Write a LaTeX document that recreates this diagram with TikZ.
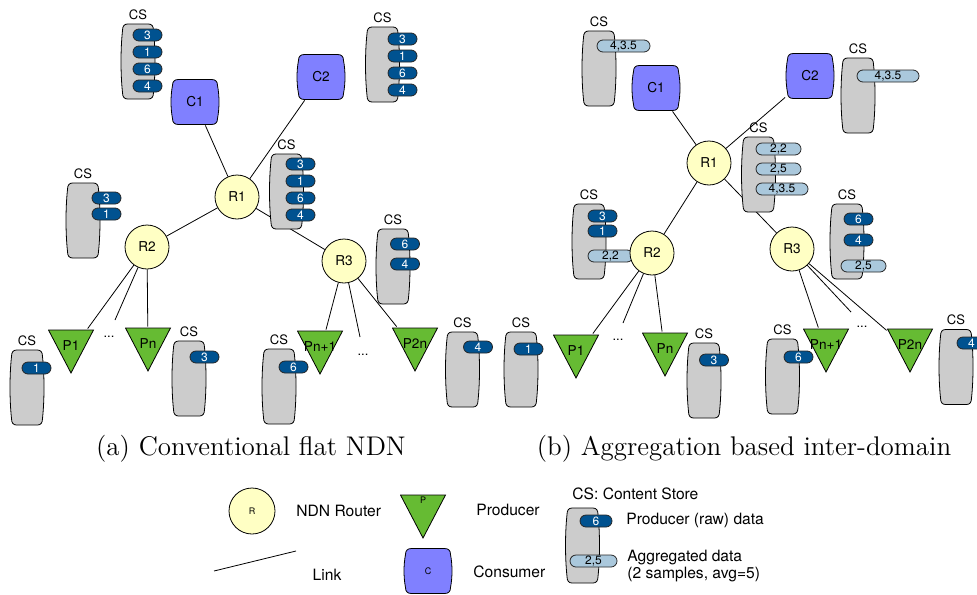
\documentclass[tikz,border=0pt]{standalone}
\usepackage{fontspec}
\newfontfamily\helv{TeX Gyre Heros}
\usetikzlibrary{positioning, shapes.misc}

\definecolor{routeryellow}{RGB}{255,255,196}
\definecolor{consumerblue}{RGB}{128,128,255}
\definecolor{producergreen}{RGB}{102,187,51}
\definecolor{storegray}{RGB}{204,204,204}
\definecolor{rawblue}{RGB}{0,82,144}
\definecolor{aggblue}{RGB}{170,200,220}

\pgfdeclarelayer{background}
\pgfsetlayers{background,main}

\begin{document}
\begin{tikzpicture}[x=0.5pt, y=-0.5pt]
		\tikzset{
			nodefont/.style={font=\helv\fontsize{6.8}{7}\selectfont},
			router/.style={draw, circle, fill=routeryellow, minimum size=22pt, inner sep=0pt, nodefont},
			consumer/.style={minimum width=24.5pt, minimum height=23pt, inner sep=0pt,
				label={[nodefont]center:#1},
				path picture={\draw[fill=consumerblue, shift={(path picture bounding box.center)}]
					(-16.5,-22.5) -- (16.5,-22.5) .. controls (20.5,-22.5) and (22.5,-20.5) .. (22.5,-16.5)
					.. controls (24.5,-6) and (24.5,6) .. (22.5,16.5) .. controls (22.5,20.5) and (20.5,22.5) .. (16.5,22.5)
					-- (-16.5,22.5) .. controls (-20.5,22.5) and (-22.5,20.5) .. (-22.5,16.5)
					.. controls (-24.5,6) and (-24.5,-6) .. (-22.5,-16.5) .. controls (-22.5,-20.5) and (-20.5,-22.5) .. (-16.5,-22.5) -- cycle;}},
			producer/.style={minimum width=23pt, minimum height=22.5pt, inner sep=0pt,
				label={[nodefont, yshift=2.75pt]center:#1},
				path picture={\draw[fill=producergreen, shift={(path picture bounding box.center)}]
					(-22.5,-21.5) -- (22.5,-21.5) -- (0,21.5) -- cycle;}},
			store/.style={minimum width=17.5pt, minimum height=38pt, inner sep=0pt,
				path picture={\draw[fill=storegray, shift={(path picture bounding box.center)}]
					(-10.5,-37.5) -- (10.5,-37.5) .. controls (14,-37.5) and (15.5,-35) .. (15.5,-31)
					.. controls (17.5,-12) and (17.5,12) .. (15.5,31) .. controls (15.5,35) and (14,37.5) .. (10.5,37.5)
					-- (-10.5,37.5) .. controls (-14,37.5) and (-15.5,35) .. (-15.5,31)
					.. controls (-17.5,12) and (-17.5,-12) .. (-15.5,-31) .. controls (-15.5,-35) and (-14,-37.5) .. (-10.5,-37.5) -- cycle;}},
			cslabel/.style={font=\helv\fontsize{6.5}{7}\selectfont, inner sep=1.5pt},
			cstore/.style={store, label={[cslabel]above:CS}},
			rawpill/.style={rounded rectangle, draw=black!85, fill=rawblue, text=white, minimum width=14.5pt, minimum height=6pt, inner sep=0pt, font=\helv\fontsize{6}{6}\selectfont},
			aggpill/.style={rawpill, fill=aggblue, text=black, minimum width=22.5pt},
			dots/.style={font=\helv\fontsize{6.5}{7}\selectfont},
			smallfont/.style={font=\helv\fontsize{4.5}{5}\selectfont},
			legendtext/.style={font=\helv\fontsize{7.8}{8.4}\selectfont, inner sep=0pt},
			caption/.style={font=\fontsize{13.5}{15}\selectfont}
		}
		\useasboundingbox (0,0) rectangle (977,594);
		
		% (a) content stores
		\node[cstore] (s1) at (138,61.5) {};
		\node[rawpill] (s1a) at (147.5,35) {3};
		\node[rawpill] (s1b) at (147.5,52) {1};
		\node[rawpill] (s1c) at (147.5,69) {6};
		\node[rawpill] (s1d) at (147.5,86) {4};
		\node[cstore] (s2) at (382.5,64.5) {};
		\node[rawpill] (s2a) at (402.5,39) {3};
		\node[rawpill] (s2b) at (402.5,56) {1};
		\node[rawpill] (s2c) at (402.5,73) {6};
		\node[rawpill] (s2d) at (402.5,90) {4};
		\node[cstore] (s3) at (286.5,191.5) {};
		\node[rawpill] (s3a) at (300.5,164) {3};
		\node[rawpill] (s3b) at (300.5,181) {1};
		\node[rawpill] (s3c) at (300.5,198) {6};
		\node[rawpill] (s3d) at (300.5,215) {4};
		\node[cstore] (s4) at (83,220.5) {};
		\node[rawpill] (s4a) at (106.5,198) {3};
		\node[rawpill] (s4b) at (106.5,214) {1};
		\node[cstore] (s5) at (393,266.5) {};
		\node[rawpill] (s5a) at (405,244) {6};
		\node[rawpill] (s5b) at (405,264) {4};
		\node[cstore] (s6) at (27,387.5) {};
		\node[rawpill] (s6a) at (36.5,368) {1};
		\node[cstore] (s7) at (189,378.5) {};
		\node[rawpill] (s7a) at (204.5,357) {3};
		\node[cstore] (s8) at (279,386.5) {};
		\node[rawpill] (s8a) at (293.5,367) {6};
		\node[cstore] (s9) at (462.5,369.5) {};
		\node[rawpill] (s9a) at (478,347) {4};
		
		% (a) routers, consumers, producers
		\node[router] (r1) at (237,197) {R1};
		\node[router] (r2) at (147,247) {R2};
		\node[router] (r3) at (344,261) {R3};
		\node[consumer=C1] (c1) at (195,102) {};
		\node[consumer=C2] (c2) at (321,77) {};
		\node[producer=P1] (p1) at (71,351.5) {};
		\node[producer=Pn] (pn) at (148,349.5) {};
		\node[producer=Pn+1] (pnn) at (320,352.5) {};
		\node[producer=P2n] (ptwon) at (415,349.5) {};
		\node[dots] (dots1) at (109,337) {...};
		\node[dots] (dots2) at (363,355) {...};
		\coordinate (d1) at (115,320);
		\coordinate (d2) at (360,337);
		
		% (b) content stores
		\node[cstore] (t1) at (521,369.5) {};
		\node[rawpill] (t1a) at (528.5,349) {1};
		\node[cstore] (t2) at (599,68.5) {};
		\node[aggpill, minimum width=26.5pt] (t2a) at (623.5,46) {4,3.5};
		\node[cstore] (t3) at (858,95.5) {};
		\node[aggpill, minimum width=31pt] (t3a) at (888,76) {4,3.5};
		\node[cstore] (t4) at (758.5,174.5) {};
		\node[aggpill] (t4a) at (778.5,149) {2,2};
		\node[aggpill] (t4b) at (778.5,169) {2,5};
		\node[aggpill, minimum width=26pt] (t4c) at (782,189) {4,3.5};
		\node[cstore] (t5) at (589,241.5) {};
		\node[rawpill] (t5a) at (602.5,216) {3};
		\node[rawpill] (t5b) at (602.5,231) {1};
		\node[aggpill] (t5c) at (610.5,256) {2,2};
		\node[cstore] (t6) at (847,241.5) {};
		\node[rawpill] (t6a) at (858.5,219) {6};
		\node[rawpill] (t6b) at (858.5,240) {4};
		\node[aggpill] (t6c) at (863.5,266) {2,5};
		\node[cstore] (t7) at (704,380.5) {};
		\node[rawpill] (t7a) at (714,360) {3};
		\node[cstore] (t8) at (782.5,376.5) {};
		\node[rawpill] (t8a) at (798.5,357) {6};
		\node[cstore] (t9) at (956,367) {};
		\node[rawpill] (t9a) at (971.5,343) {4};
		
		% (b) routers, consumers, producers
		\node[router] (q1) at (709,163) {R1};
		\node[router] (q2) at (652,253) {R2};
		\node[router] (q3) at (792,249) {R3};
		\node[consumer=C1] (b1) at (656,88) {};
		\node[consumer=C2] (b2) at (810,76) {};
		\node[producer=P1] (o1) at (576,356.5) {};
		\node[producer=Pn] (on) at (665,354.5) {};
		\node[producer=Pn+1] (onn) at (826,350.5) {};
		\node[producer=P2n] (otwon) at (910,350.5) {};
		\node[dots] (dots3) at (618,340) {...};
		\node[dots] (dots4) at (862,327) {...};
		\coordinate (d3) at (623,323);
		\coordinate (d4) at (851,312);
		
		% Links
		\begin{pgfonlayer}{background}
		\draw (r1) -- (c1);
		\draw (r1) -- (c2);
		\draw (r1) -- (r2);
		\draw (r1) -- (r3);
		\draw (r2) -- (p1);
		\draw (r2) -- (d1);
		\draw (r2) -- (pn);
		\draw (r3) -- (pnn);
		\draw (r3) -- (d2);
		\draw (r3) -- (ptwon);
		\draw (q1) -- (b1);
		\draw (q1) -- (b2);
		\draw (q1) -- (q2);
		\draw (q1) -- (q3);
		\draw (q2) -- (o1);
		\draw (q2) -- (d3);
		\draw (q2) -- (on);
		\draw (q3) -- (onn);
		\draw (q3) -- (d4);
		\draw (q3) -- (otwon);
		\end{pgfonlayer}
		
		% Captions
		\node[caption] (capa) at (251,449) {(a) Conventional flat NDN};
		\node[caption] (capb) at (744,449) {(b) Aggregation based inter-domain};
		
		% Legend
		\node[router, minimum size=23pt, smallfont] (lr) at (252,511) {R};
		\node[legendtext, anchor=west] (lrtext) at (296,511) {NDN Router};
		\coordinate (la) at (214,571);
		\coordinate (lb) at (296,551);
		\draw (la) -- (lb);
		\node[legendtext] (ltext) at (327,575) {Link};
		\node[producer={}, label={[smallfont, yshift=8.25pt]center:P}] (lp) at (423,516.5) {};
		\node[legendtext, anchor=west] (lptext) at (476,510) {Producer};
		\node[consumer={}, label={[smallfont]center:C}] (lc) at (428,571) {};
		\node[legendtext, anchor=west] (lctext) at (473,572) {Consumer};
		\node[legendtext, anchor=west] (lstext) at (572,494) {CS: Content Store};
		\node[store] (ls) at (582.5,545.5) {};
		\node[rawpill, minimum width=16pt] (lsa) at (596,521) {6};
		\node[aggpill, minimum width=23.5pt] (lsb) at (593.5,561) {2,5};
		\node[legendtext, anchor=west] (lsatext) at (626,520) {Producer (raw) data};
		\node[legendtext, anchor=west, align=left] (lsbtext) at (627,566) {Aggregated data\\(2 samples, avg=5)};
		
	\end{tikzpicture}
\end{document}
